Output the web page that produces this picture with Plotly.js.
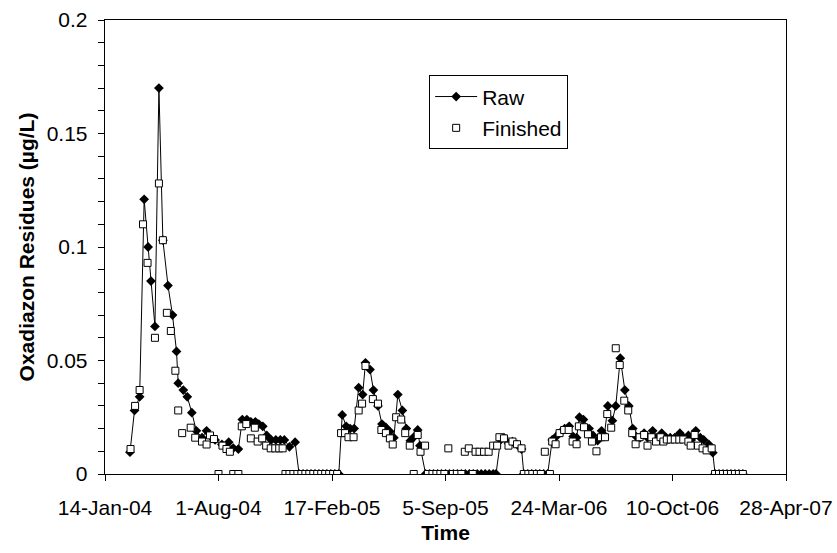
<!DOCTYPE html>
<html>
<head>
<meta charset="utf-8">
<script src="https://cdn.plot.ly/plotly-3.0.1.min.js"></script>
<style>html,body{margin:0;padding:0;background:#fff;}#chart{width:837px;height:553px;}</style>
</head>
<body>
<div id="chart"></div>
<script>
// Days after 14-Jan-04
var rawDays = [44,52,61,69,76,81,88,95,102,111,119,126,129,138,145,153,161,171,179,187,194,206,218,226,235,242,250,257,265,271,278,285,293,301,309,316,325,335,
  342,349,356,363,370,377,384,391,398,405,412,
  418,425,432,439,447,454,459,467,473,481,488,495,502,509,516,524,531,538,545,551,555,
  565,572,579,586,593,600,607,614,621,628,635,642,649,656,663,670,677,684,689,
  697,703,711,718,726,734,
  738,745,752,759,766,773,780,
  788,795,801,810,818,825,831,836,843,853,860,868,875,880,886,894,900,908,916,923,930,936,943,950,956,965,971,981,989,996,1004,1013,1019,1028,1033,1041,1049,1055,1064,1071,
  1075,1082,1089,1096,1103,1110,1117,1124];
var rawValues = [0.0096,0.028,0.034,0.121,0.100,0.085,0.065,0.170,0.103,0.083,0.070,0.054,0.040,0.037,0.034,0.027,0.019,0.016,0.019,0.0165,0.015,0.013,0.014,0.0114,0.011,0.024,0.024,0.023,0.023,0.022,0.021,0.017,0.015,0.015,0.015,0.015,0.012,0.014,
  0,0,0,0,0,0,0,0,0,0,0,
  0.026,0.021,0.020,0.020,0.038,0.035,0.049,0.046,0.037,0.030,0.022,0.0205,0.0187,0.016,0.035,0.028,0.020,0.0147,0.0165,0.0194,0.0125,
  0,0,0,0,0,0,0,0,0,0,0,0,0,0,0,0,0,0,0,
  0.015,0.016,0.0135,0.0143,0.013,0.011,
  0,0,0,0,0,0,0,
  0.015,0.0165,0.018,0.020,0.021,0.0165,0.016,0.025,0.024,0.020,0.017,0.0147,0.019,0.017,0.030,0.0235,0.030,0.051,0.037,0.030,0.020,0.0165,0.016,0.018,0.016,0.019,0.016,0.018,0.016,0.016,0.016,0.018,0.016,0.017,0.015,0.019,0.016,0.015,0.013,0.0094,
  0,0,0,0,0,0,0,0];

var finDays = [45,53,61,67,75,88,95,102,109,116,124,129,136,151,159,171,179,185,192,200,207,214,220,226,235,241,249,257,264,269,277,284,292,300,307,313,
  318,325,332,339,346,353,360,367,374,381,388,395,402,409,
  416,423,429,438,447,453,459,472,481,487,495,502,507,513,522,529,537,544,551,556,564,
  569,577,584,591,598,605,613,620,628,634,641,648,653,660,668,676,684,691,695,703,711,718,726,734,
  738,746,753,761,768,775,784,
  788,794,801,809,817,824,831,835,844,851,858,866,874,881,885,892,900,907,915,922,929,935,942,950,956,963,971,979,984,990,997,1004,1012,1019,1028,1032,1039,1045,1053,1060,1069,
  1075,1082,1089,1096,1103,1110,1117,1124];
var finValues = [0.011,0.030,0.037,0.110,0.093,0.060,0.128,0.103,0.071,0.063,0.0455,0.028,0.018,0.0204,0.016,0.0143,0.013,0.017,0.0154,0,0.0125,0.011,0.0098,0,0,0.021,0.022,0.0157,0.0204,0.0143,0.0157,0.0125,0.0113,0.0113,0.0113,0.0113,
  0,0,0,0,0,0,0,0,0,0,0,0,0,0,
  0.018,0.018,0.0162,0.0162,0.028,0.031,0.0476,0.033,0.031,0.0194,0.018,0.0157,0.013,0.025,0.024,0.018,0.0125,0,0.0172,0.0098,0.0125,
  0,0,0,0,0,0.0113,0,0,0,0.0098,0.0113,0,0.0098,0.0098,0.0098,0.0098,0.0125,0.0125,0.0162,0.0157,0.0125,0.0143,0.0131,0.0113,
  0,0,0,0,0,0.0098,0,
  0.0143,0.0131,0.018,0.0194,0.0194,0.0143,0.0131,0.021,0.0206,0.0175,0.0143,0.010,0.0162,0.0162,0.0264,0.0204,0.0554,0.048,0.0323,0.028,0.018,0.0131,0.0162,0.0172,0.0125,0.0162,0.0143,0.0162,0.0143,0.0152,0.0152,0.0152,0.0152,0.0152,0.0143,0.0125,0.0172,0.0125,0.0113,0.0104,0.0113,
  0,0,0,0,0,0,0,0];

var xTickVals = ['2004-01-14','2004-08-01','2005-02-17','2005-09-05','2006-03-24','2006-10-10','2007-04-28'];
var xTickText = ['14-Jan-04','1-Aug-04','17-Feb-05','5-Sep-05','24-Mar-06','10-Oct-06','28-Apr-07'];
var yTickVals = [0,0.05,0.1,0.15,0.2];
var yTickText = ['0','0.05','0.1','0.15','0.2'];

var start = Date.UTC(2004,0,14);
function toDate(d){ return new Date(start + d*86400000).toISOString().slice(0,10); }

var traces = [
  {x: rawDays.map(toDate), y: rawValues, name: 'Raw', type: 'scatter', mode: 'lines+markers',
   line: {color: '#000', width: 1}, marker: {symbol: 'diamond', size: 7.5, color: '#000'}, legendgroup: 'a'},
  {x: finDays.map(toDate), y: finValues, name: 'Finished', type: 'scatter', mode: 'markers',
   marker: {symbol: 'square', size: 7, color: '#fff', line: {color: '#000', width: 1}}, legendgroup: 'b'}
];

var fam = 'Liberation Sans, Arial, sans-serif';
var layout = {
  width: 837, height: 553,
  margin: {l: 105, r: 51, t: 20, b: 79},
  paper_bgcolor: '#fff', plot_bgcolor: '#fff',
  font: {family: fam, color: '#000', size: 21},
  showlegend: true,
  legend: {x: 0.476, y: 0.878, xanchor: 'left', yanchor: 'top', bordercolor: '#000', borderwidth: 1,
           bgcolor: '#fff', font: {family: fam, size: 21, color: '#000'}, tracegroupgap: 1, traceorder: 'grouped',
           itemwidth: 42},
  xaxis: {type: 'date', range: ['2004-01-14','2007-04-28'], tickvals: xTickVals, ticktext: xTickText,
          ticks: 'outside', ticklen: 6, tickcolor: '#000', showgrid: false, zeroline: false,
          showline: true, linecolor: '#000', linewidth: 1.3, mirror: true, ticklabelstandoff: 8,
          tickfont: {family: fam, size: 21, color: '#000'},
          title: {text: '<b>Time</b>', font: {family: fam, size: 21, color: '#000'}, standoff: 7}},
  yaxis: {range: [0, 0.2], tickvals: yTickVals, ticktext: yTickText,
          ticks: 'outside', ticklen: 6, tickcolor: '#000', showgrid: false, zeroline: false,
          showline: true, linecolor: '#000', linewidth: 1.3, mirror: true, ticklabelstandoff: 6,
          minor: {dtick: 0.01, ticks: 'outside', ticklen: 6, tickcolor: '#000', showgrid: false},
          tickfont: {family: fam, size: 21, color: '#000'},
          title: {text: '<b>Oxadiazon Residues (µg/L)</b>', font: {family: fam, size: 21, color: '#000'}, standoff: 6}}
};

Plotly.newPlot('chart', traces, layout, {displayModeBar: false, staticPlot: true});
</script>
</body>
</html>
